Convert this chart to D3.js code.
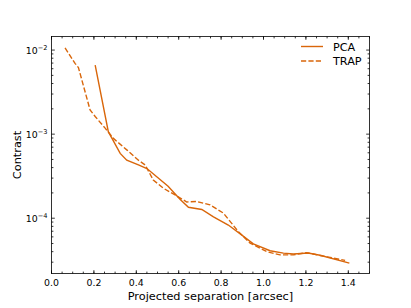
<!DOCTYPE html>
<html lang="en">
<head>
<meta charset="UTF-8">
<title>Contrast curve</title>
<script src="https://cdn.jsdelivr.net/npm/d3@7"></script>
<style>
  body { margin: 0; background: #fff; }
  text { font-family: "DejaVu Sans", sans-serif; fill: #000; }
</style>
</head>
<body>
<script>
// separations [arcsec] and contrast values
var pcaSep = [0.206, 0.268, 0.324, 0.355, 0.41, 0.45, 0.55, 0.606, 0.646, 0.709, 0.764, 0.834, 0.898, 0.952, 1.031, 1.094, 1.141, 1.21, 1.267, 1.405];
var pcaCon = [6.6e-3, 1.07e-3, 5.9e-4, 4.9e-4, 4.3e-4, 3.9e-4, 2.4e-4, 1.68e-4, 1.35e-4, 1.27e-4, 1.04e-4, 8.3e-5, 6.3e-5, 4.95e-5, 4.1e-5, 3.84e-5, 3.76e-5, 3.86e-5, 3.63e-5, 2.92e-5];

var trapSep = [0.064, 0.111, 0.127, 0.182, 0.206, 0.253, 0.292, 0.355, 0.41, 0.442, 0.48, 0.528, 0.583, 0.638, 0.685, 0.748, 0.811, 0.882, 0.937, 1.016, 1.078, 1.141, 1.204, 1.267, 1.385];
var trapCon = [1.06e-2, 6.95e-3, 6.2e-3, 1.94e-3, 1.62e-3, 1.18e-3, 8.9e-4, 6.5e-4, 4.9e-4, 4.3e-4, 2.85e-4, 2.27e-4, 1.89e-4, 1.56e-4, 1.58e-4, 1.44e-4, 1.15e-4, 6.9e-5, 5.05e-5, 4.0e-5, 3.66e-5, 3.66e-5, 3.9e-5, 3.6e-5, 3.15e-5];

var xTicks = [0.0, 0.2, 0.4, 0.6, 0.8, 1.0, 1.2, 1.4];
var yTicks = [1e-4, 1e-3, 1e-2];
var yExp = ["\u22124", "\u22123", "\u22122"];

var W = 411, H = 308;
var margin = {top: 36.5, right: 41.5, bottom: 34.5, left: 51.5};
var width = W - margin.left - margin.right,
    height = H - margin.top - margin.bottom;
var color = "#d9660a";

var svg = d3.select("body").append("svg")
    .attr("width", W)
    .attr("height", H);

var g = svg.append("g")
    .attr("transform", "translate(" + margin.left + "," + margin.top + ")");

var x = d3.scaleLinear().domain([0, 1.5]).range([0, width]);
var y = d3.scaleLog().domain([2.2e-5, 1.45e-2]).range([height, 0]);

// minor ticks
var xMinor = d3.range(0, 1.5001, 0.05);
var yMinor = [];
[-5, -4, -3, -2].forEach(function (e) {
    for (var k = 2; k < 10; k++) {
        var v = k * Math.pow(10, e);
        if (v >= y.domain()[0] && v <= y.domain()[1]) yMinor.push(v);
    }
});

var major = 3.3, minor = 1.9;

function tickLines(vals, len, scale, horiz) {
    vals.forEach(function (v) {
        var p = scale(v);
        if (horiz) {
            g.append("line").attr("x1", p).attr("x2", p).attr("y1", height).attr("y2", height - len);
            g.append("line").attr("x1", p).attr("x2", p).attr("y1", 0).attr("y2", len);
        } else {
            g.append("line").attr("y1", p).attr("y2", p).attr("x1", 0).attr("x2", len);
            g.append("line").attr("y1", p).attr("y2", p).attr("x1", width).attr("x2", width - len);
        }
    });
}

var tickG = g.append("g");
tickLines(xMinor, minor, x, true);
tickLines(xTicks, major, x, true);
tickLines(yMinor, minor, y, false);
tickLines(yTicks, major, y, false);
g.selectAll("line").attr("stroke", "#000").attr("stroke-width", 0.8);

// x tick labels
g.selectAll(".xlab")
    .data(xTicks)
    .enter().append("text")
    .attr("class", "xlab")
    .attr("x", function (d) { return x(d); })
    .attr("y", height + 12.5)
    .attr("text-anchor", "middle")
    .attr("font-size", "9.4px")
    .text(function (d) { return d.toFixed(1); });

// y tick labels 10^n
var yl = g.selectAll(".ylab")
    .data(yTicks)
    .enter().append("text")
    .attr("class", "ylab")
    .attr("x", -4)
    .attr("y", function (d) { return y(d) + 3.5; })
    .attr("text-anchor", "end")
    .attr("font-size", "9.4px");
yl.append("tspan").text("10");
yl.append("tspan")
    .attr("dy", -4)
    .attr("font-size", "6.6px")
    .text(function (d, i) { return yExp[i]; });

// lines
var linePca = d3.line()
    .x(function (d, i) { return x(pcaSep[i]); })
    .y(function (d) { return y(d); });
var lineTrap = d3.line()
    .x(function (d, i) { return x(trapSep[i]); })
    .y(function (d) { return y(d); });

g.append("path")
    .datum(pcaCon)
    .attr("d", linePca)
    .attr("fill", "none")
    .attr("stroke", color)
    .attr("stroke-width", 1.4);

g.append("path")
    .datum(trapCon)
    .attr("d", lineTrap)
    .attr("fill", "none")
    .attr("stroke", color)
    .attr("stroke-width", 1.4)
    .attr("stroke-dasharray", "5.2,2.2");

// frame
g.append("rect")
    .attr("width", width)
    .attr("height", height)
    .attr("fill", "none")
    .attr("stroke", "#000")
    .attr("stroke-width", 0.8);

// axis labels
svg.append("text")
    .attr("x", margin.left + width / 2)
    .attr("y", 300)
    .attr("text-anchor", "middle")
    .attr("font-size", "11.3px")
    .text("Projected separation [arcsec]");

svg.append("text")
    .attr("transform", "translate(21," + (margin.top + height / 2) + ") rotate(-90)")
    .attr("text-anchor", "middle")
    .attr("font-size", "11.3px")
    .text("Contrast");

// legend
var leg = g.append("g").attr("transform", "translate(" + (301 - margin.left) + "," + (46.5 - margin.top) + ")");
var items = ["PCA", "TRAP"];
items.forEach(function (name, i) {
    leg.append("line")
        .attr("x1", 0).attr("x2", 22)
        .attr("y1", i * 14.5).attr("y2", i * 14.5)
        .attr("stroke", color)
        .attr("stroke-width", 1.4)
        .attr("stroke-dasharray", i === 1 ? "5.2,2.2" : null);
    leg.append("text")
        .attr("x", 32)
        .attr("y", i * 14.5 + 4)
        .attr("font-size", "11.2px")
        .text(name);
});
</script>
</body>
</html>
